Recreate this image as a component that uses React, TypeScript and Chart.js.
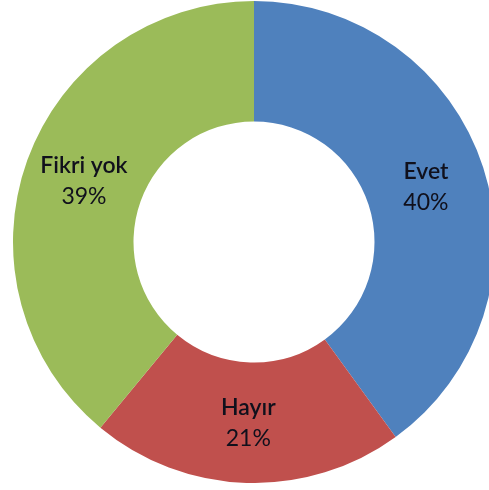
import React, { useEffect, useRef } from "react";
import { Chart, registerables } from "chart.js";

Chart.register(...registerables);

const categories = ["Evet", "Hayır", "Fikri yok"];
const values = [40, 21, 39];
const valueLabels = ["40%", "21%", "39%"];
const colors = ["#4F81BD", "#C0504D", "#9BBB59"];

const labelPlugin = {
  id: "sliceLabels",
  afterDatasetsDraw(chart: any) {
    const ctx = chart.ctx;
    const meta = chart.getDatasetMeta(0);
    ctx.save();
    ctx.textAlign = "center";
    ctx.textBaseline = "middle";
    ctx.fillStyle = "#10101c";
    meta.data.forEach((arc: any, i: number) => {
      const p = arc.tooltipPosition();
      ctx.font = "600 23px Lato, 'Open Sans', sans-serif";
      ctx.fillText(categories[i], p.x, p.y - 15);
      ctx.font = "23px Lato, 'Open Sans', sans-serif";
      ctx.fillText(valueLabels[i], p.x, p.y + 16);
    });
    ctx.restore();
  },
};

export default function App() {
  const ref = useRef<HTMLCanvasElement>(null);
  useEffect(() => {
    if (!ref.current) return;
    const chart = new Chart(ref.current, {
      type: "doughnut",
      data: {
        labels: categories,
        datasets: [
          {
            data: values,
            backgroundColor: colors,
            borderWidth: 0,
          },
        ],
      },
      options: {
        responsive: false,
        animation: false,
        cutout: "50%",
        layout: { padding: 0 },
        plugins: {
          legend: { display: false },
          tooltip: { enabled: false },
        },
      },
      plugins: [labelPlugin],
    });
    return () => chart.destroy();
  }, []);
  return (
    <div
      style={{
        position: "fixed",
        left: 0,
        top: 0,
        width: 489,
        height: 490,
        overflow: "hidden",
        background: "#fff",
      }}
    >
      <canvas
        ref={ref}
        width={506}
        height={482}
        style={{ position: "absolute", left: 1, top: 1, width: 506, height: 482 }}
      />
    </div>
  );
}
